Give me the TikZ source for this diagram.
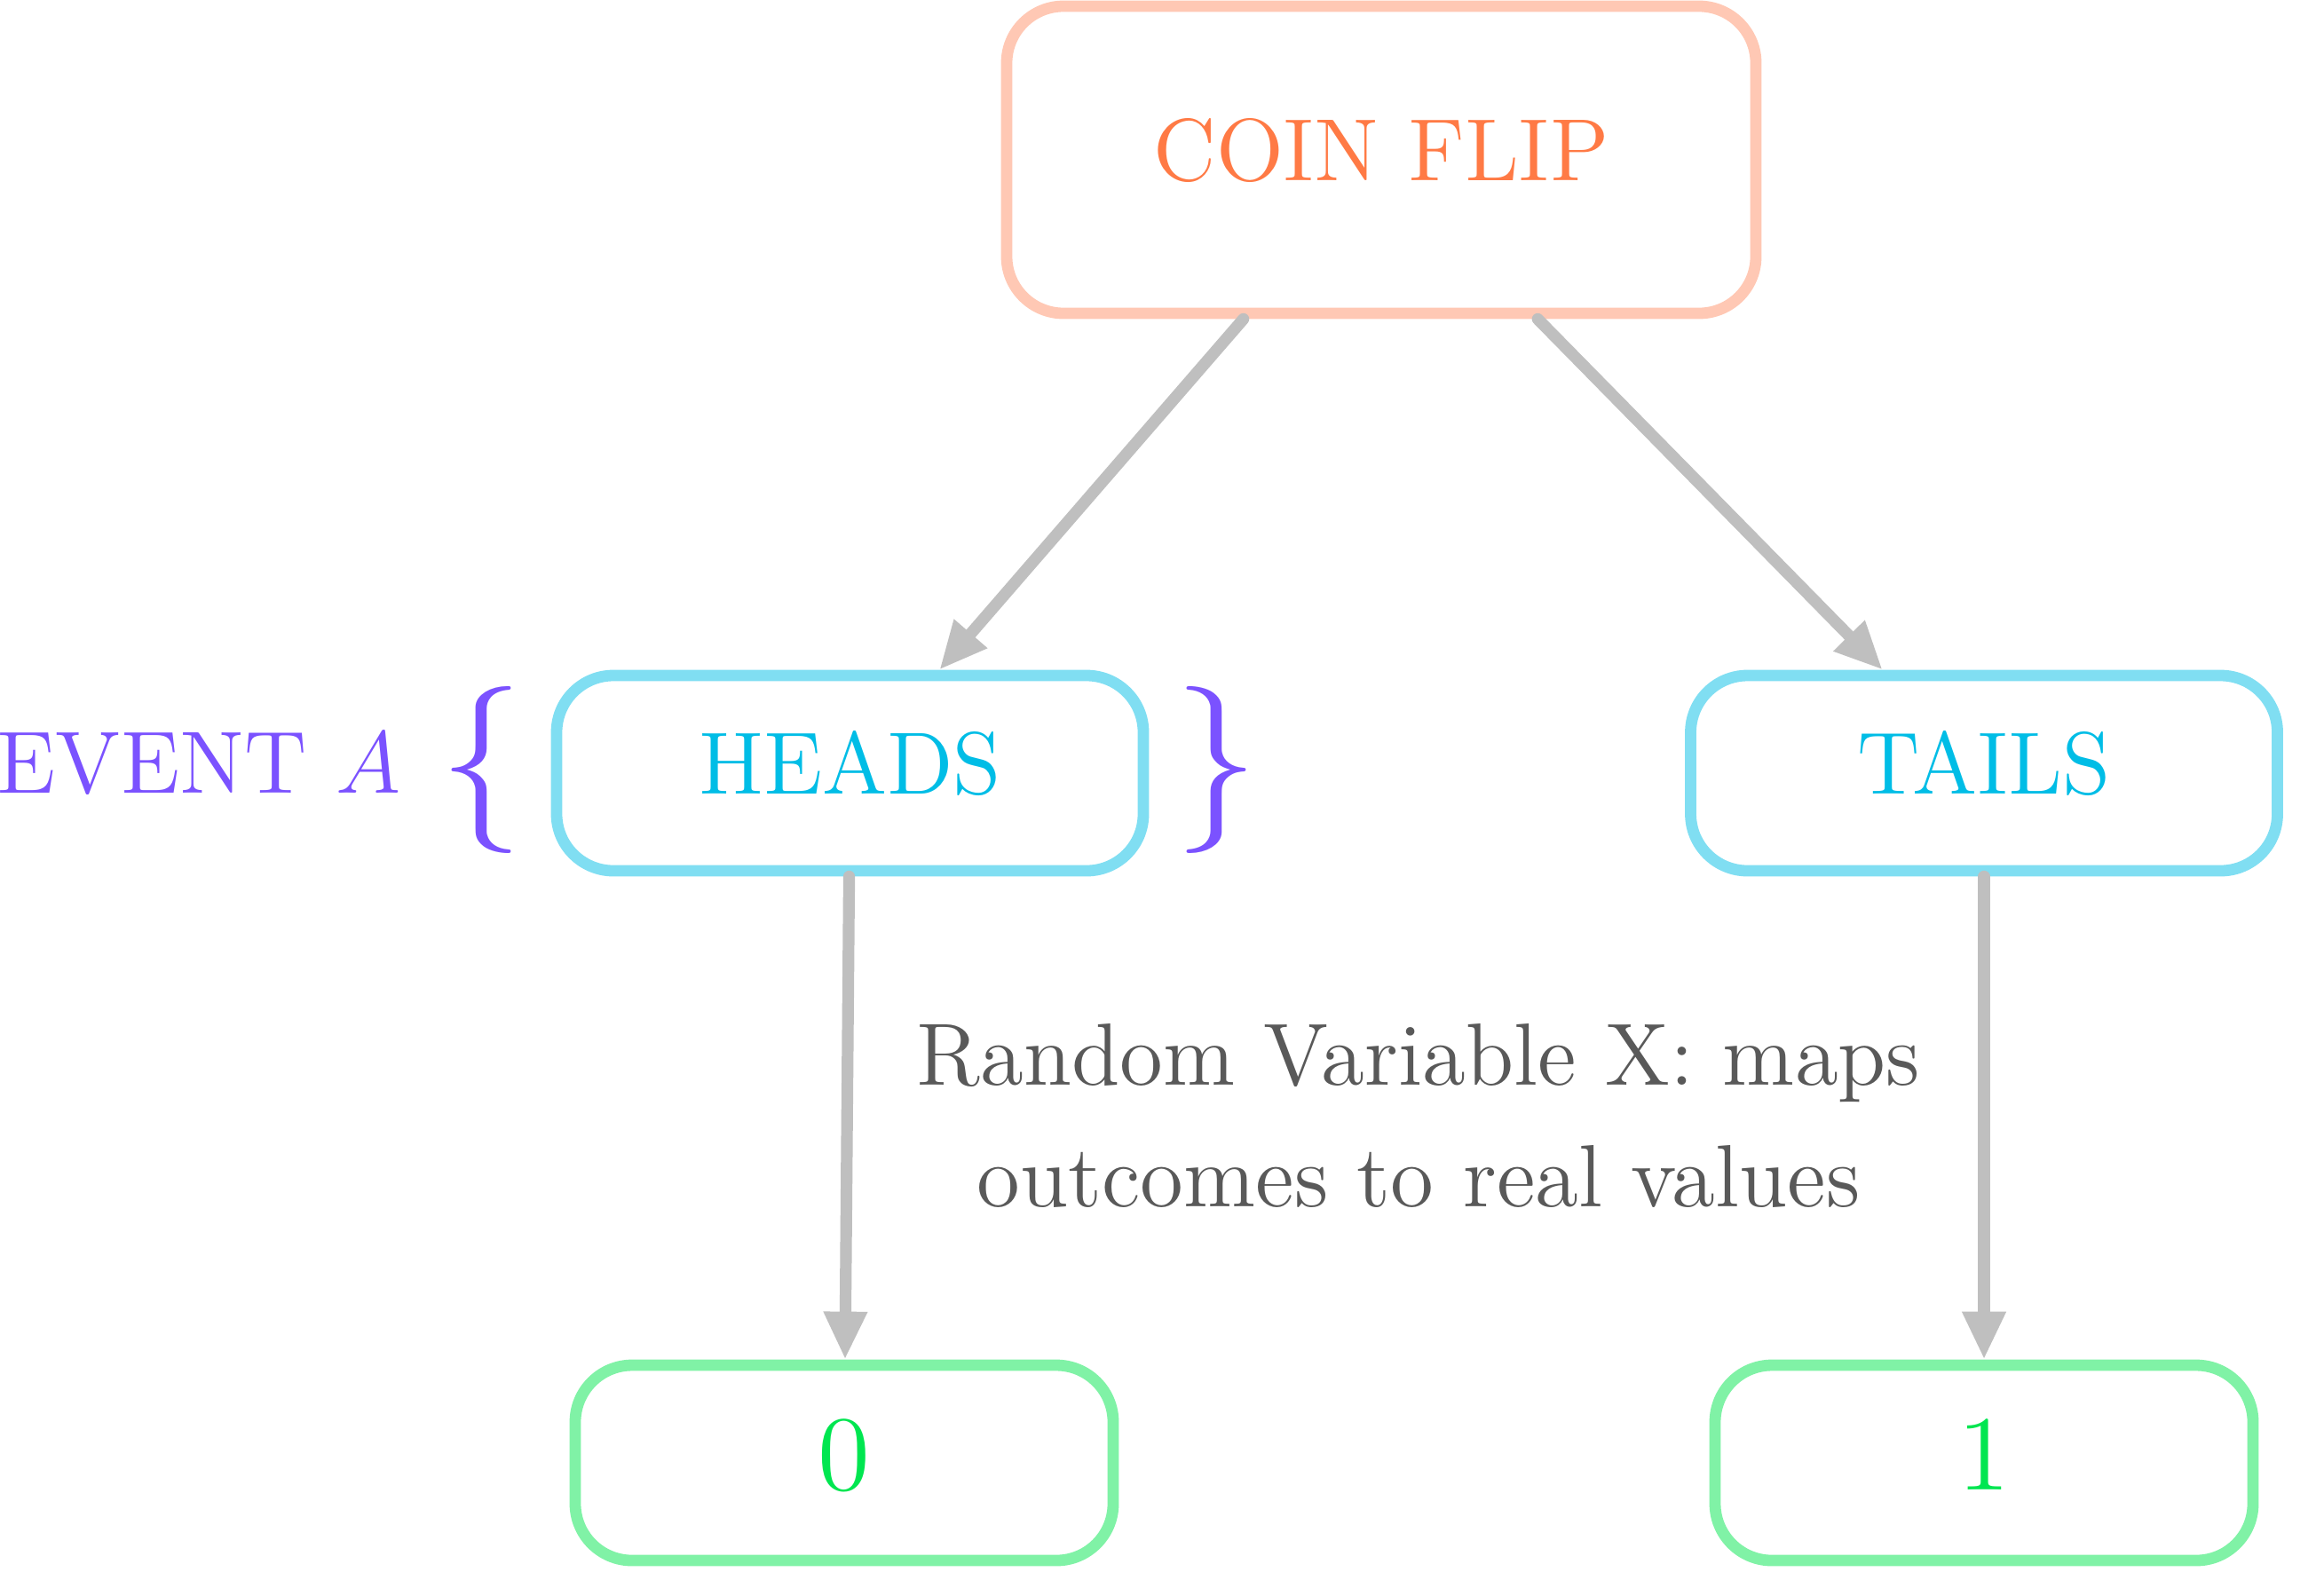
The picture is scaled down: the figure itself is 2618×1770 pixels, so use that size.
\documentclass[tikz,border=0pt]{standalone}
\usepackage{fontspec}
\setmainfont{lmroman12-regular.otf}[ItalicFont=lmroman12-italic.otf, BoldFont=lmroman12-bold.otf]
\usetikzlibrary{arrows.meta}
\definecolor{orangeT}{HTML}{FF7A45}
\definecolor{orangeB}{HTML}{FFC8B4}
\definecolor{cyanT}{HTML}{00BDE6}
\definecolor{cyanB}{HTML}{80DEF2}
\definecolor{greenT}{HTML}{00E650}
\definecolor{greenB}{HTML}{80F2A6}
\definecolor{purpleT}{HTML}{7B52FF}
\definecolor{arrowG}{HTML}{BFBFBF}
\definecolor{textG}{HTML}{595959}
\tikzset{
  box/.style={draw, line width=3.2pt, rounded corners=16pt, fill=white,
    font=\Huge, text depth=6pt, inner sep=0pt},
  coinbox/.style={box, draw=orangeB, text=orangeT, minimum width=211pt, minimum height=86.5pt},
  outbox/.style={box, draw=cyanB, text=cyanT, minimum width=165.25pt, minimum height=55pt},
  valbox/.style={box, draw=greenB, text=greenT, minimum width=151.5pt, minimum height=55pt,
    font=\fontsize{30}{36}\selectfont, text depth=4.8pt},
  conn/.style={draw=arrowG, line width=3.3pt, line cap=round,
    -{Triangle[length=13.5pt 0 0, width=11.5pt 0 0]}},
  bracetext/.style={text=purpleT, inner sep=0pt, font=\Huge},
}
\begin{document}
\begin{tikzpicture}[x=0.25pt, y=-0.25pt]
\useasboundingbox (0,0) rectangle (2618,1770);
\node[coinbox] (coin) at (1556,180) {COIN FLIP};
\node[outbox] (heads) at (957.5,871) {HEADS};
\node[outbox] (tails) at (2235,871) {TAILS};
\node[valbox] (zero) at (951,1648) {0};
\node[valbox] (one) at (2235,1648) {1};
\node[text=purpleT, font=\Huge, anchor=base east, inner sep=0pt] (event) at (452,893) {EVENT $A$};
\node[bracetext] (lbrace) at (543,867) {\scalebox{1.89}{$\{$}};
\node[bracetext] (rbrace) at (1370,867) {\scalebox{1.89}{$\}$}};
\node[text=textG, align=center, inner sep=0pt,
  font=\fontsize{24.88}{34.25}\selectfont] (rvtext) at (1598,1257)
  {Random Variable X: maps\\outcomes to real values};
\draw[conn] (coin) -- (heads);
\draw[conn] (coin) -- (tails);
\draw[conn] (heads) -- (zero);
\draw[conn] (tails) -- (one);
\end{tikzpicture}
\end{document}
